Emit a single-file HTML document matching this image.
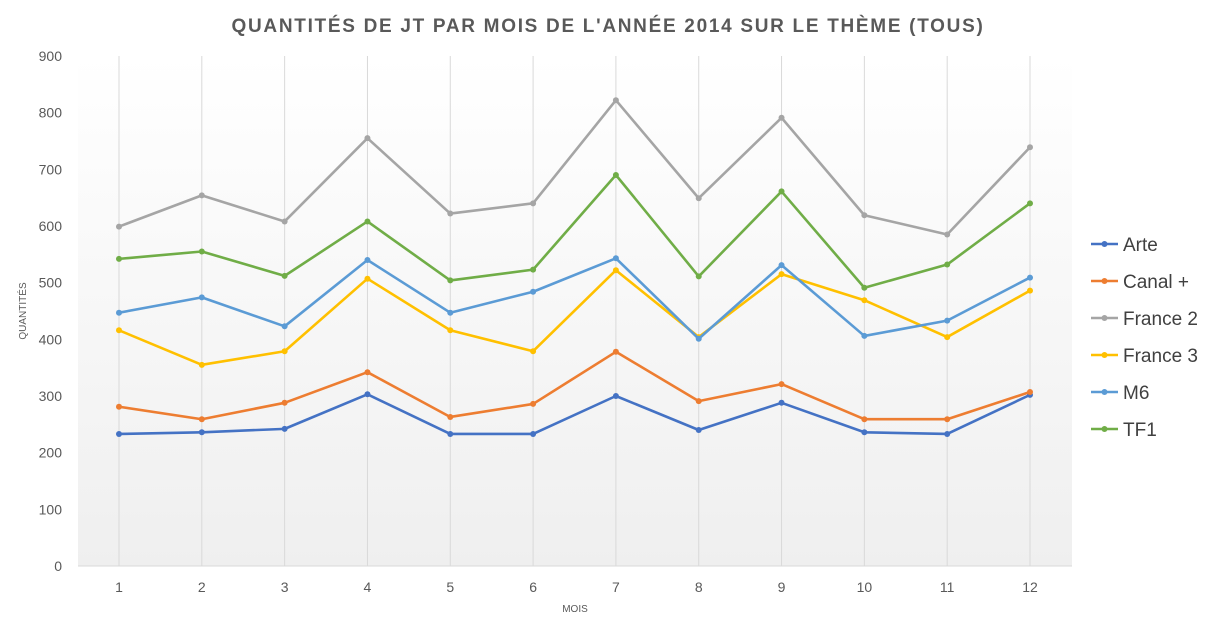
<!DOCTYPE html>
<html><head><meta charset="utf-8"><style>
body{margin:0;background:#fff;font-family:"Liberation Sans",sans-serif;}
svg text{font-family:"Liberation Sans",sans-serif;}
</style></head><body>
<svg id="c" width="1216" height="632" xmlns="http://www.w3.org/2000/svg">
<defs><linearGradient id="bg" x1="0" y1="0" x2="0" y2="1"><stop offset="0" stop-color="#ffffff"/><stop offset="1" stop-color="#efefef"/></linearGradient></defs>
<rect x="0" y="0" width="1216" height="632" fill="#fff"/>
<rect x="78" y="56" width="994" height="510" fill="url(#bg)"/>
<text x="608" y="32" text-anchor="middle" font-size="19" font-weight="bold" fill="#595959" letter-spacing="1.7">QUANTITÉS DE JT PAR MOIS DE L'ANNÉE 2014 SUR LE THÈME (TOUS)</text>
<text x="26" y="311" text-anchor="middle" font-size="10" fill="#595959" transform="rotate(-90 26 311)">QUANTITÉS</text>
<text x="575" y="612" text-anchor="middle" font-size="10" fill="#595959">MOIS</text>
<g id="grid"></g><g id="axes"></g><g id="series"></g><g id="legend"></g>
</svg>
<script>
const months=[1,2,3,4,5,6,7,8,9,10,11,12];
const yTicks=[0,100,200,300,400,500,600,700,800,900];
const seriesNames=["Arte","Canal +","France 2","France 3","M6","TF1"];
const seriesColors=["#4472c4","#ed7d31","#a5a5a5","#ffc000","#5b9bd5","#70ad47"];
const arte=[233,236,242,303,233,233,300,240,288,236,233,302];
const canal=[281,259,288,342,263,286,378,291,321,259,259,307];
const france2=[599,654,608,755,622,640,822,649,791,619,585,739];
const france3=[416,355,379,507,416,379,522,404,515,469,404,486];
const m6=[447,474,423,540,447,484,543,401,531,406,433,509];
const tf1=[542,555,512,608,504,523,690,511,661,491,532,640];
const seriesData=[arte,canal,france2,france3,m6,tf1];
const NS="http://www.w3.org/2000/svg";
const x=m=>119+(m-1)*(1030-119)/11;
const y=v=>566-v*(510/900);
function mk(t,a,p){const e=document.createElementNS(NS,t);for(const k in a)e.setAttribute(k,a[k]);p.appendChild(e);return e;}
const grid=document.getElementById('grid'),axes=document.getElementById('axes'),ser=document.getElementById('series'),leg=document.getElementById('legend');
months.forEach(m=>{
 const l=mk('line',{x1:x(m),x2:x(m),y1:56,y2:566,stroke:'#d9d9d9','stroke-width':1},grid);
 
 
 const t=mk('text',{x:x(m),y:592,'text-anchor':'middle','font-size':14,fill:'#595959'},axes);t.textContent=m;
 
 
});
yTicks.forEach(v=>{
 const t=mk('text',{x:62,y:y(v)+5,'text-anchor':'end','font-size':14,fill:'#595959'},axes);t.textContent=v;
 
 
});
const ax=mk('line',{x1:78,x2:1072,y1:566,y2:566,stroke:'#d9d9d9'},axes);


seriesData.forEach((d,i)=>{
 const g=mk('g',{},ser);
 
 
 const p=mk('polyline',{points:d.map((v,j)=>x(months[j])+','+y(v)).join(' '),fill:'none',stroke:seriesColors[i],'stroke-width':2.6,'stroke-linejoin':'round'},g);
 
 
 d.forEach((v,j)=>{const c=mk('circle',{cx:x(months[j]),cy:y(v),r:3,fill:seriesColors[i]},g);
  
  });
 const ly=244+i*37;
 const lg=mk('g',{},leg);
 
 
 mk('line',{x1:1091,x2:1118,y1:ly,y2:ly,stroke:seriesColors[i],'stroke-width':2.6},lg);
 mk('circle',{cx:1104.5,cy:ly,r:3,fill:seriesColors[i]},lg);
 const t=mk('text',{x:1123,y:ly+7,'font-size':19,fill:'#404040'},lg);t.textContent=seriesNames[i];
});
</script>
</body></html>
